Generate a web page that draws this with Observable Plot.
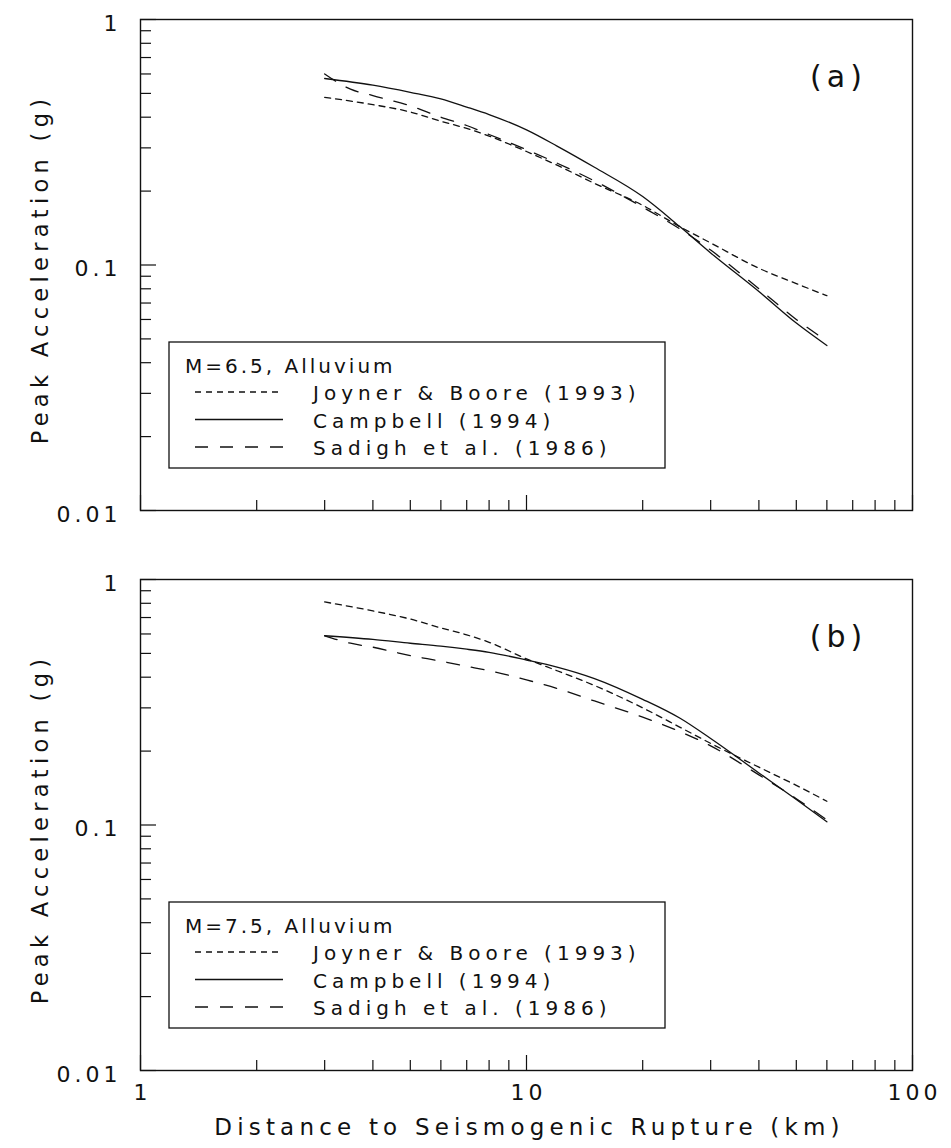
<!DOCTYPE html>
<html>
<head>
<meta charset="utf-8">
<script src="https://cdn.jsdelivr.net/npm/d3@7"></script>
<script src="https://cdn.jsdelivr.net/npm/@observablehq/plot@0.6"></script>
<style>
html, body { margin: 0; padding: 0; background: #fff; }
#page { position: relative; width: 951px; height: 1148px; overflow: hidden; background: #fff; }
#page > svg { position: absolute; left: 0; }
</style>
</head>
<body>
<div id="page"></div>
<script>
// ---------------- data ----------------
const distKm       = [3, 4, 5, 6, 7, 8, 10, 12, 15, 20, 25, 30, 40, 50, 60];
const sadighDistKm = [3, 3.5, 4, 5, 6, 7, 8, 10, 12, 15, 20, 25, 30, 40, 50, 60];

// panel (a) M=6.5
const joynerA   = [0.482, 0.45, 0.42, 0.385, 0.36, 0.335, 0.29, 0.255, 0.215, 0.175, 0.143, 0.123, 0.097, 0.084, 0.075];
const campbellA = [0.575, 0.54, 0.505, 0.475, 0.44, 0.41, 0.355, 0.305, 0.25, 0.19, 0.143, 0.112, 0.078, 0.058, 0.047];
const sadighA   = [0.60, 0.52, 0.49, 0.445, 0.40, 0.37, 0.34, 0.295, 0.26, 0.22, 0.172, 0.14, 0.115, 0.08, 0.06, 0.049];

// panel (b) M=7.5
const joynerB   = [0.81, 0.745, 0.69, 0.635, 0.595, 0.555, 0.475, 0.425, 0.37, 0.30, 0.25, 0.215, 0.172, 0.145, 0.125];
const campbellB = [0.59, 0.57, 0.55, 0.535, 0.52, 0.505, 0.47, 0.44, 0.395, 0.325, 0.272, 0.225, 0.163, 0.127, 0.103];
const sadighB   = [0.59, 0.55, 0.53, 0.49, 0.465, 0.443, 0.425, 0.39, 0.36, 0.32, 0.275, 0.24, 0.21, 0.16, 0.128, 0.105];

const seriesNames = ["Joyner & Boore (1993)", "Campbell (1994)", "Sadigh et al. (1986)"];
const panelTitles = ["M=6.5,  Alluvium", "M=7.5,  Alluvium"];
const panelTags   = ["(a)", "(b)"];
const xAxisLabel  = "Distance to Seismogenic Rupture (km)";
const yAxisLabel  = "Peak Acceleration (g)";

const xTickValues = [1, 10, 100];
const xTickLabels = ["1", "10", "100"];
const xMinorTicks = [2, 3, 4, 5, 6, 7, 8, 9, 20, 30, 40, 50, 60, 70, 80, 90];
const yTickValues = [0.01, 0.1, 1];
const yTickLabels = ["0.01", "0.1", "1"];
const yMinorTicks = [0.02, 0.03, 0.04, 0.05, 0.06, 0.07, 0.08, 0.09, 0.2, 0.3, 0.4, 0.5, 0.6, 0.7, 0.8, 0.9];

// ---------------- styles / layout ----------------
const FONT = '"DejaVu Sans", "Liberation Sans", sans-serif';
const dashStyles = ["6,5", null, "13,12"];
const INK = "#111";
const W = 951;
const mL = 140, mR = 39, mT = 19;
const frameH = 491;
const frameW = W - mL - mR;
const panelTops = [0, 560];
const TICK_FS = 22, XLABEL_FS = 23, YLABEL_FS = 22.5, TAG_FS = 30;
const spacingBySize = {[TICK_FS]: "4px", [XLABEL_FS]: "5.2px", [YLABEL_FS]: "5.3px", [TAG_FS]: "5px"};

function panel(i, jv, cv, sv, showX) {
  const marginBottom = showX ? 78 : 30;
  const height = mT + frameH + marginBottom;
  const lineOpts = {stroke: INK, strokeWidth: 1.3, curve: "monotone-x"};
  const txt = {fontFamily: FONT, fill: INK};
  const marks = [
    Plot.frame({stroke: INK, strokeWidth: 1.4}),
    Plot.tickX(xMinorTicks, {x: d => d, insetTop: frameH - 10, stroke: INK, strokeWidth: 1.2}),
    Plot.tickX(xTickValues, {x: d => d, insetTop: frameH - 15, stroke: INK, strokeWidth: 1.2}),
    Plot.tickY(yMinorTicks, {y: d => d, insetRight: frameW - 11, stroke: INK, strokeWidth: 1.2}),
    Plot.tickY(yTickValues, {y: d => d, insetRight: frameW - 16, stroke: INK, strokeWidth: 1.2}),
    Plot.line(distKm.map((d, k) => ({d, v: jv[k]})), {x: "d", y: "v", ...lineOpts, strokeDasharray: dashStyles[0]}),
    Plot.line(distKm.map((d, k) => ({d, v: cv[k]})), {x: "d", y: "v", ...lineOpts}),
    Plot.line(sadighDistKm.map((d, k) => ({d, v: sv[k]})), {x: "d", y: "v", ...lineOpts, strokeDasharray: dashStyles[2]}),
    Plot.text(yTickValues, {y: d => d, text: (d, k) => yTickLabels[k], frameAnchor: "left",
      textAnchor: "end", lineAnchor: "middle", dx: -19, dy: 4, fontSize: TICK_FS, ...txt}),
    Plot.text([yAxisLabel], {frameAnchor: "left", rotate: -90, textAnchor: "middle", lineAnchor: "middle",
      dx: -100, dy: 4, fontSize: YLABEL_FS, ...txt}),
    Plot.text([panelTags[i]], {frameAnchor: "top-right", textAnchor: "middle", lineAnchor: "middle",
      dx: -74, dy: 58, fontSize: TAG_FS, ...txt})
  ];
  if (showX) {
    marks.push(
      Plot.text(xTickValues, {x: d => d, text: (d, k) => xTickLabels[k], frameAnchor: "bottom",
        textAnchor: "middle", lineAnchor: "middle", dx: 2, dy: 22, fontSize: TICK_FS, ...txt}),
      Plot.text([xAxisLabel], {frameAnchor: "bottom", textAnchor: "middle", lineAnchor: "middle",
        dx: 3, dy: 57, fontSize: XLABEL_FS, ...txt})
    );
  }
  const svg = Plot.plot({
    width: W, height,
    marginLeft: mL, marginRight: mR, marginTop: mT, marginBottom,
    x: {type: "log", domain: [1, 100], axis: null},
    y: {type: "log", domain: [0.01, 1], axis: null},
    style: {background: "transparent", fontFamily: FONT, overflow: "visible"},
    marks
  });
  // letter spacing per text size (wide plotter-style lettering)
  d3.select(svg).selectAll("g[aria-label='text']").each(function () {
    const fs = this.getAttribute("font-size");
    if (spacingBySize[fs]) this.style.letterSpacing = spacingBySize[fs];
  });
  svg.style.top = panelTops[i] + "px";
  return svg;
}

const page = document.getElementById("page");
page.appendChild(panel(0, joynerA, campbellA, sadighA, false));
page.appendChild(panel(1, joynerB, campbellB, sadighB, true));

// ---------------- legends (overlay) ----------------
const ov = d3.create("svg").attr("width", W).attr("height", 1148)
  .style("position", "absolute").style("top", "0px").style("left", "0px")
  .style("font-family", FONT);
panelTops.forEach((oy, i) => {
  const g = ov.append("g").attr("transform", `translate(0,${oy})`);
  g.append("rect").attr("x", 169).attr("y", 342).attr("width", 496).attr("height", 126)
    .attr("fill", "white").attr("stroke", INK).attr("stroke-width", 1.3);
  g.append("text").attr("x", 185).attr("y", 373).attr("font-size", 20)
    .style("letter-spacing", "3px").attr("fill", INK).text(panelTitles[i]);
  seriesNames.forEach((name, k) => {
    const base = 400 + 27.5 * k;
    const ln = g.append("line").attr("x1", 195).attr("x2", 283).attr("y1", base - 8).attr("y2", base - 8)
      .attr("stroke", INK).attr("stroke-width", 1.3);
    if (dashStyles[k]) ln.attr("stroke-dasharray", dashStyles[k]);
    g.append("text").attr("x", 313).attr("y", base).attr("font-size", 20)
      .style("letter-spacing", "5px").attr("fill", INK).text(name);
  });
});
page.appendChild(ov.node());
</script>
</body>
</html>
